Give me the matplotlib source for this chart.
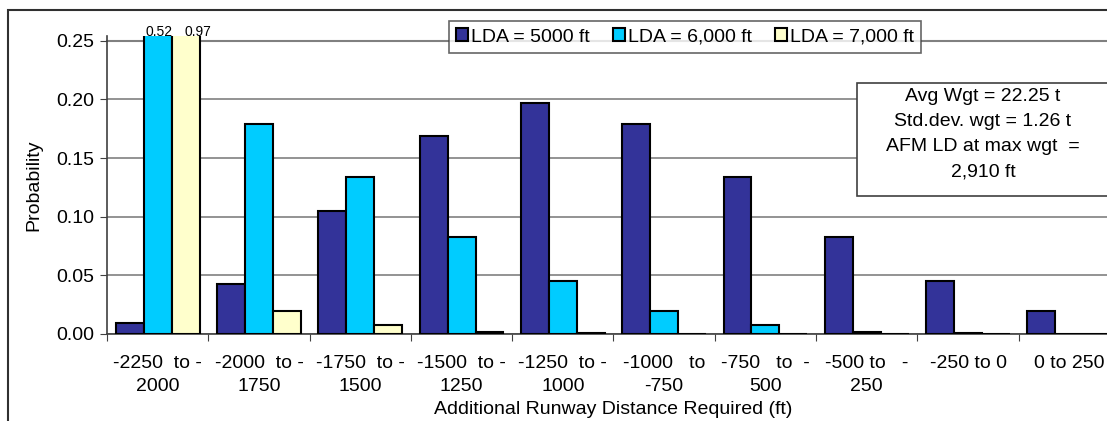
import matplotlib
matplotlib.use('Agg')
import matplotlib.pyplot as plt
from matplotlib.patches import Rectangle
import numpy as np

plt.rcParams['font.family'] = ['Liberation Sans', 'DejaVu Sans']

categories = ['-2250  to -\n2000', '-2000  to -\n1750', '-1750  to -\n1500',
              '-1500  to -\n1250', '-1250  to -\n1000', '-1000   to\n-750',
              '-750   to  -\n500', '-500 to   -\n250', '-250 to 0', '0 to 250']
lda_5000 = [0.0095, 0.0425, 0.105, 0.169, 0.197, 0.179, 0.134, 0.083, 0.045, 0.020]
lda_6000 = [0.52, 0.179, 0.134, 0.083, 0.045, 0.020, 0.008, 0.002, 0.0005, 0.0002]
lda_7000 = [0.97, 0.020, 0.008, 0.002, 0.0005, 0.0003, 0.0, 0.0, 0.0, 0.0]
series_labels = ['LDA = 5000 ft', 'LDA = 6,000 ft', 'LDA = 7,000 ft']
colors = ['#333399', '#00CCFF', '#FFFFCC']
note_lines = ['Avg Wgt = 22.25 t', 'Std.dev. wgt = 1.26 t', 'AFM LD at max wgt  =', '2,910 ft']

W, H = 1107, 421
fs = 14
fig = plt.figure(figsize=(W / 100, H / 100), dpi=100)
ax = fig.add_axes([107 / W, 1 - 334 / H, 1013 / W, (334 - 36) / H])

x = np.arange(len(categories))
bw = 0.276
label_shift = {1: 1, 2: 9}
for k, (vals, lab, c) in enumerate(zip([lda_5000, lda_6000, lda_7000], series_labels, colors)):
    ax.bar(x + (k - 1) * bw, vals, bw, color=c, edgecolor='black', linewidth=1.5,
           label=lab, zorder=3)
    if vals[0] > 0.25:
        # values above the axis top are written over the clipped bars
        ax.annotate('%.2f' % vals[0], (x[0] + (k - 1) * bw, 0.2515), xytext=(label_shift[k], 0),
                    textcoords='offset points', ha='center', va='bottom', fontsize=10, zorder=5)

ax.set_ylim(0, 0.254)
ax.set_xlim(-0.5, len(categories) - 0.5)
yt = np.arange(0, 0.26, 0.05)
ax.set_yticks(yt)
ax.set_yticklabels(['%.2f' % v for v in yt], fontsize=fs)
ax.yaxis.grid(True, color='#808080', linewidth=1.2, zorder=0)
ax.axhline(0.25, color='#808080', linewidth=1.5, zorder=1, clip_on=False)

ax.set_xticks(np.arange(len(categories) + 1) - 0.5)
ax.set_xticklabels([])
ax.set_xticks(x, minor=True)
ax.set_xticklabels(categories, minor=True, fontsize=fs, linespacing=1.5)
ax.tick_params(axis='x', which='minor', length=0, pad=15)
ax.tick_params(axis='x', which='major', length=5, direction='out', color='#404040')
ax.tick_params(axis='y', length=5, direction='out', color='#404040', pad=4)

for s in ['top', 'right']:
    ax.spines[s].set_visible(False)
for s in ['left', 'bottom']:
    ax.spines[s].set_color('#404040')
    ax.spines[s].set_linewidth(1.2)

ax.set_ylabel('Probability', fontsize=fs, labelpad=10)
fig.text(613 / W, 1 - 409 / H, 'Additional Runway Distance Required (ft)',
         ha='center', va='center', fontsize=fs)

leg = ax.legend(loc='center', bbox_to_anchor=(685 / W, 1 - 37 / H), bbox_transform=fig.transFigure,
                ncol=3, fontsize=fs, frameon=True, fancybox=False, edgecolor='#404040',
                handlelength=0.6, handleheight=0.6, handletextpad=0.15, columnspacing=1.2,
                borderpad=0.4)
leg.get_frame().set_linewidth(1.2)
leg.set_zorder(6)

# annotation box
fig.patches.append(Rectangle((857 / W, 1 - 196 / H), 300 / W, 113 / H, transform=fig.transFigure,
                             facecolor='white', edgecolor='#404040', linewidth=1.2, zorder=6))
fig.text(983 / W, 1 - 134 / H, '\n'.join(note_lines), ha='center', va='center',
         fontsize=fs, linespacing=1.62, zorder=7)

# outer chart frame
fig.patches.append(Rectangle((8 / W, -0.1), 1.2, 1.1 - 10 / H, transform=fig.transFigure,
                             facecolor='none', edgecolor='#303030', linewidth=1.5, zorder=0))

fig.savefig('out.png', dpi=100)
